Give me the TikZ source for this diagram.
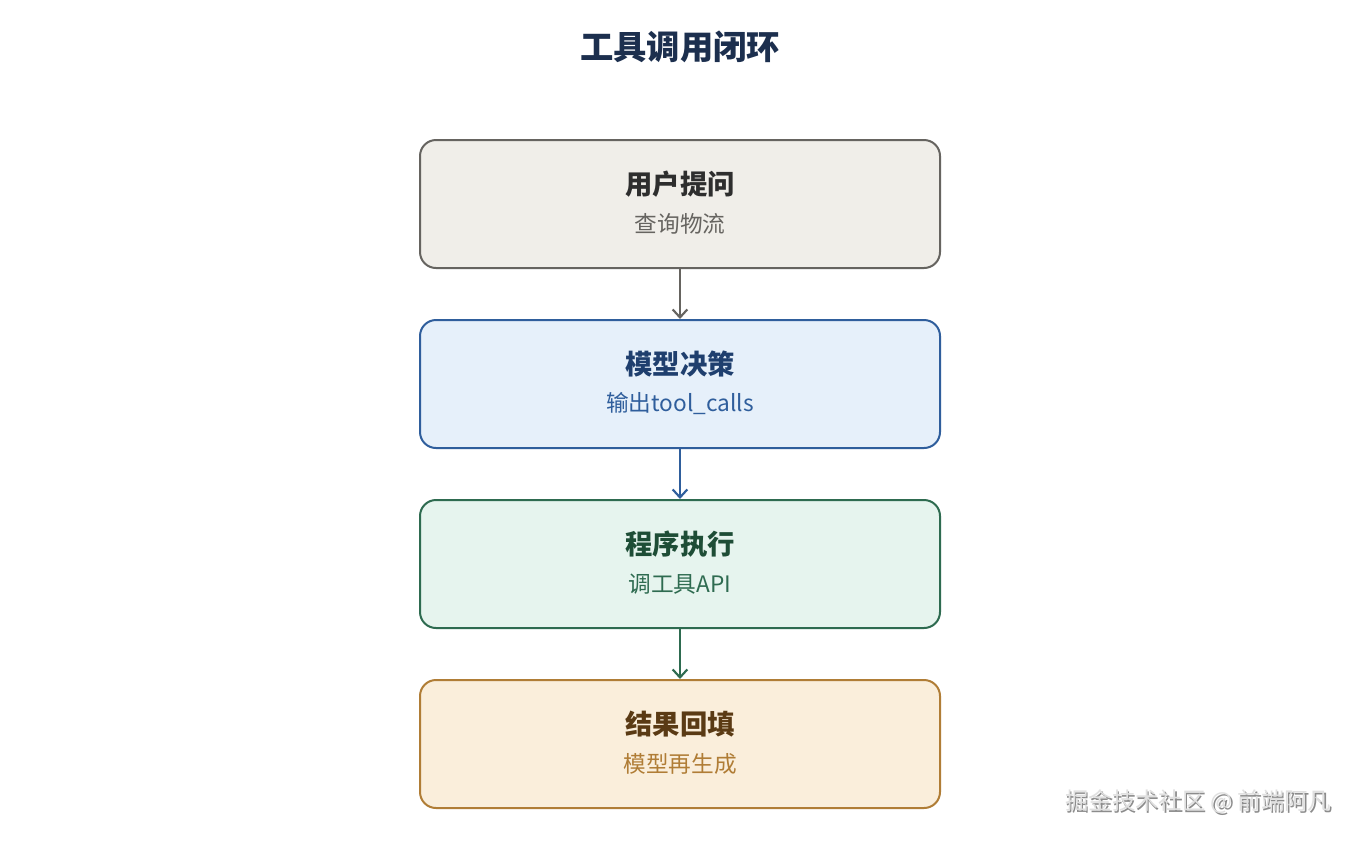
\documentclass[tikz,border=0pt]{standalone}
\usepackage{fontspec}
\setmainfont{Noto Sans CJK SC}
\usetikzlibrary{arrows.meta}
\definecolor{titlec}{HTML}{1C2F4E}
\definecolor{fillA}{HTML}{F0EEE9}\definecolor{drawA}{HTML}{666460}\definecolor{headA}{HTML}{2E2E2E}\definecolor{subA}{HTML}{666460}
\definecolor{fillB}{HTML}{E6F0FA}\definecolor{drawB}{HTML}{2F5E9C}\definecolor{headB}{HTML}{1F3F6E}\definecolor{subB}{HTML}{2F5E9C}
\definecolor{fillC}{HTML}{E6F4EE}\definecolor{drawC}{HTML}{2E6B50}\definecolor{headC}{HTML}{1E4D36}\definecolor{subC}{HTML}{2E6B50}
\definecolor{fillD}{HTML}{FAEEDB}\definecolor{drawD}{HTML}{B07D36}\definecolor{headD}{HTML}{5A3A14}\definecolor{subD}{HTML}{B07D36}
\tikzset{
  x=0.75pt,y=-0.75pt,
  stagebox/.style={rounded corners=12pt,line width=1.5pt,minimum width=390pt,minimum height=96pt,inner sep=0pt},
  headtext/.style={font=\bfseries\fontsize{20.5pt}{24pt}\selectfont},
  subtext/.style={font=\fontsize{17pt}{20pt}\selectfont},
  flow/.style={line width=1.6pt,-{Straight Barb[length=6pt,width=11pt,line width=1.6pt]}},
  wmark/.style={anchor=east,font=\fontsize{17.5pt}{21pt}\selectfont},
}
\begin{document}
\begin{tikzpicture}
\useasboundingbox[fill=white] (0,0) rectangle (1360,840);
\node[text=titlec,font=\bfseries\fontsize{25pt}{30pt}\selectfont] (title) at (680,47) {工具调用闭环};
% boxes
\node[stagebox,draw=drawA,fill=fillA] (b1) at (680,204) {};
\node[stagebox,draw=drawB,fill=fillB] (b2) at (680,384) {};
\node[stagebox,draw=drawC,fill=fillC] (b3) at (680,564) {};
\node[stagebox,draw=drawD,fill=fillD] (b4) at (680,744) {};
% texts
\node[headtext,text=headA] (h1) at (680,184) {用户提问};
\node[subtext,text=subA] (s1) at (680,224) {查询物流};
\node[headtext,text=headB] (h2) at (680,364) {模型决策};
\node[subtext,text=subB] (s2) at (680,404) {输出tool\_calls};
\node[headtext,text=headC] (h3) at (680,544) {程序执行};
\node[subtext,text=subC] (s3) at (680,584) {调工具API};
\node[headtext,text=headD] (h4) at (680,724) {结果回填};
\node[subtext,text=subD] (s4) at (680,764) {模型再生成};
% arrows
\draw[flow,drawA] (b1.south) -- (b2.north);
\draw[flow,drawB] (b2.south) -- (b3.north);
\draw[flow,drawC] (b3.south) -- (b4.north);
% watermark
\node[wmark,text=black!45] (wms) at (1337.5,803.5) {掘金技术社区 @ 前端阿凡};
\node[wmark,text=black!12] (wm) at (1336,802) {掘金技术社区 @ 前端阿凡};
\end{tikzpicture}
\end{document}
